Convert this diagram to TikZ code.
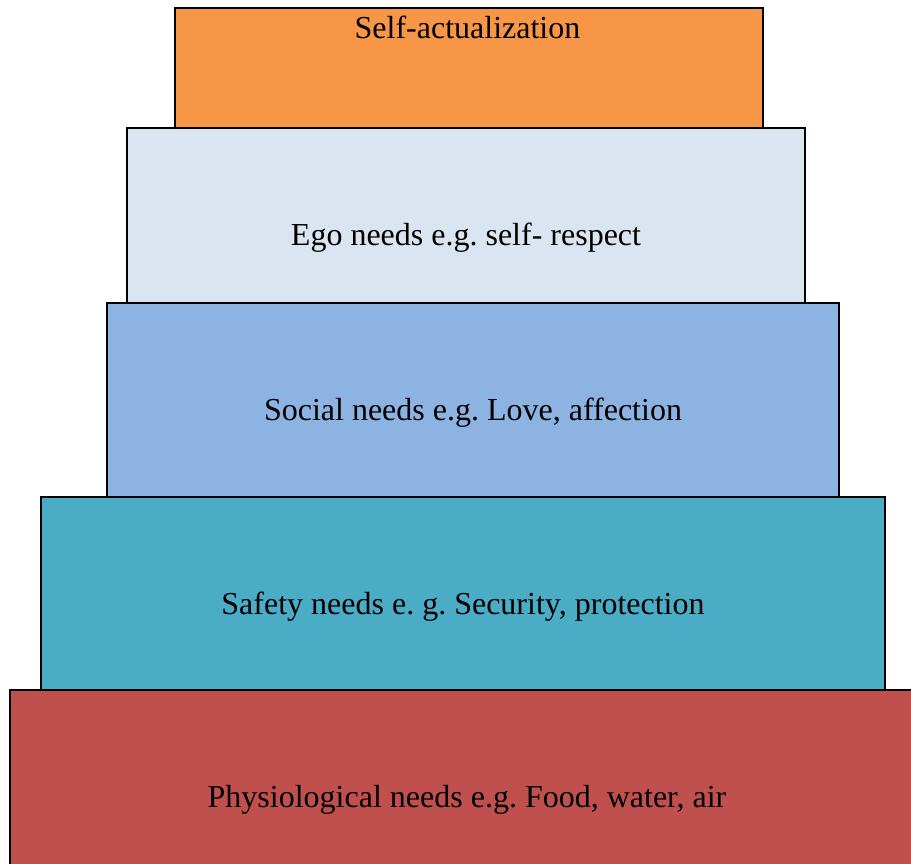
\documentclass[tikz,border=0pt]{standalone}
\usepackage{fontspec}
\setmainfont{Liberation Serif}
\usepackage{tikz}
\definecolor{selfOrange}{HTML}{F79646}
\definecolor{egoBlue}{HTML}{DBE5F1}
\definecolor{socialBlue}{HTML}{8DB3E2}
\definecolor{safetyTeal}{HTML}{4BACC6}
\definecolor{physioRed}{HTML}{C0504D}
\tikzset{
  tier/.style={rectangle, draw=black, line width=2.5pt, inner sep=0pt, outer sep=0pt},
  tiertext/.style={anchor=base, inner sep=0pt, text=black, font=\fontsize{32}{37}\selectfont\frenchspacing},
}
\newcommand{\textdrop}{-117pt}

\begin{document}
\begin{tikzpicture}[x=1pt, y=-1pt]
  \useasboundingbox (0,0) rectangle (911,863);

  % --- tiers, bottom to top ------------------------------------------------
  \node[tier, fill=physioRed, minimum width=914pt, minimum height=190pt] (physio) at (467,785) {};
  \node[tier, fill=safetyTeal, minimum width=844pt, minimum height=193pt] (safety) at (463,593.5) {};
  \node[tier, fill=socialBlue, minimum width=732pt, minimum height=194pt] (social) at (473,400) {};
  \node[tier, fill=egoBlue, minimum width=678pt, minimum height=175pt] (ego) at (466,215.5) {};
  \node[tier, fill=selfOrange, minimum width=588pt, minimum height=120pt] (selfact) at (469,68) {};

  % --- labels --------------------------------------------------------------
  \node[tiertext] (physio-txt) at ([yshift=\textdrop]physio.north) {Physiological needs e.g. Food, water, air};
  \node[tiertext] (safety-txt) at ([yshift=\textdrop]safety.north) {Safety needs e. g. Security, protection};
  \node[tiertext] (social-txt) at ([yshift=\textdrop]social.north) {Social needs e.g. Love, affection};
  \node[tiertext] (ego-txt) at ([yshift=\textdrop]ego.north) {Ego needs e.g. self- respect};
  \node[tiertext] (selfact-txt) at ([xshift=-1.5pt, yshift=-30pt]selfact.north) {Self-actualization};

\end{tikzpicture}
\end{document}
